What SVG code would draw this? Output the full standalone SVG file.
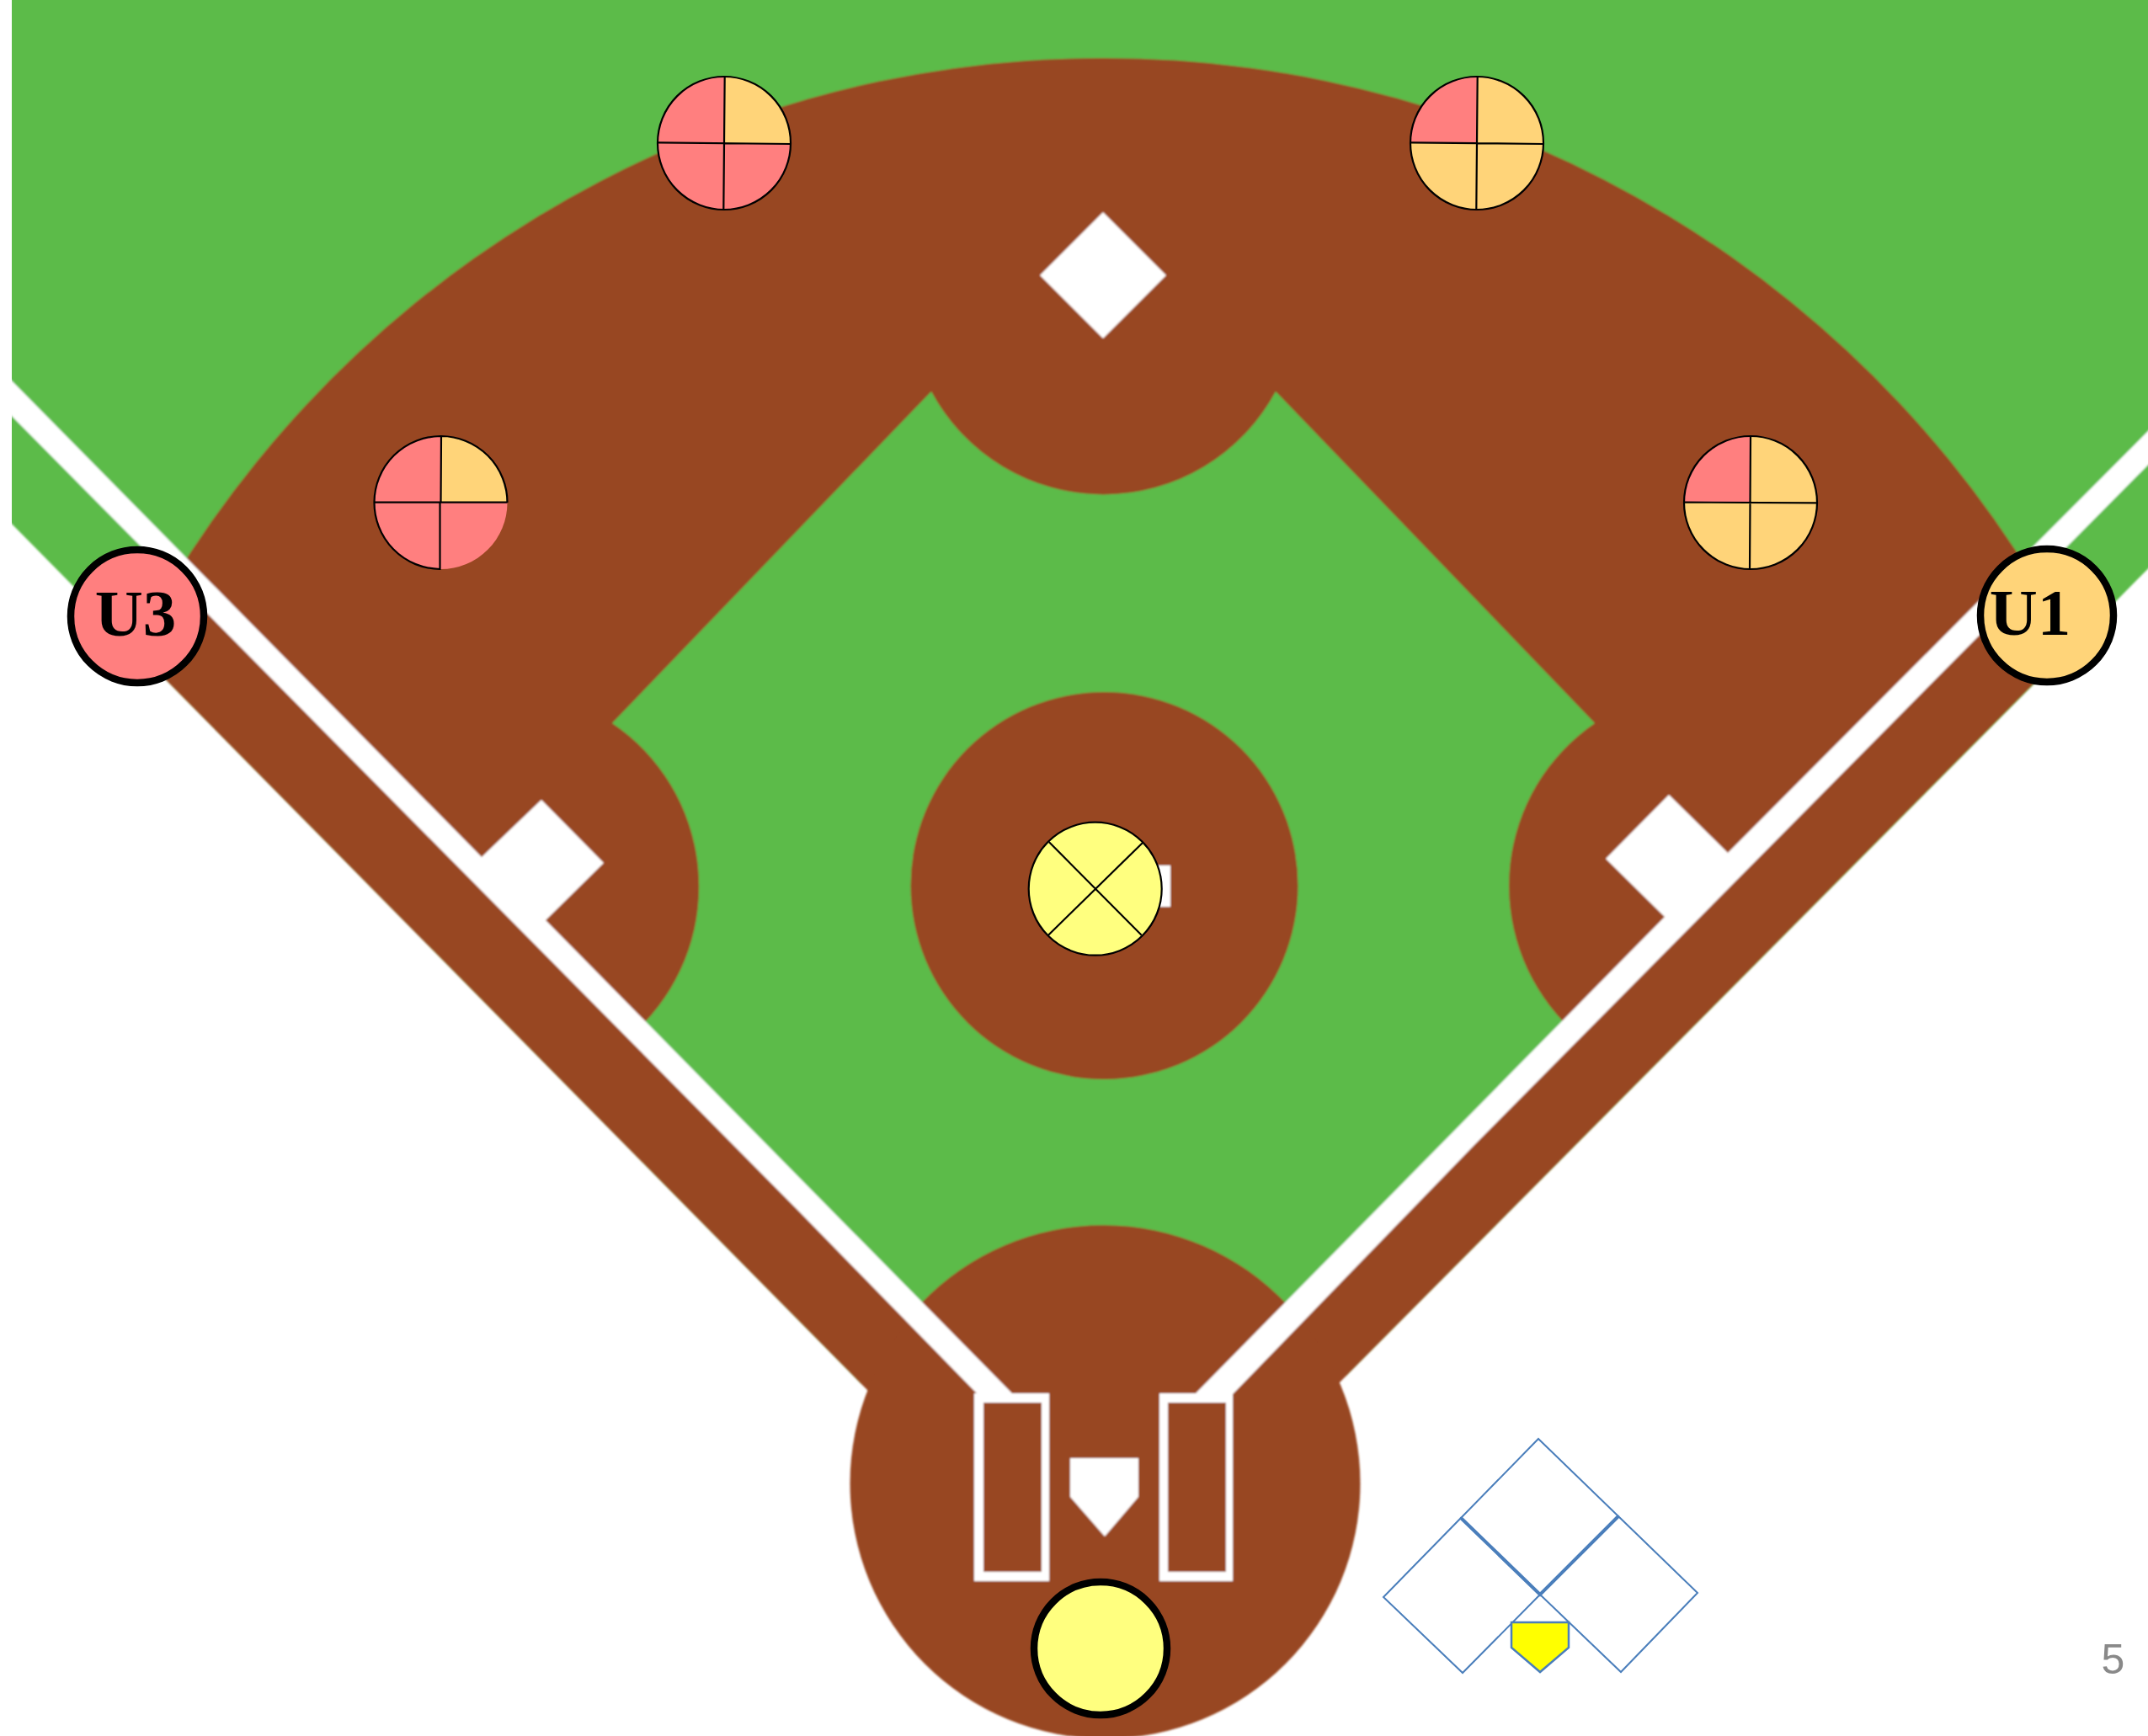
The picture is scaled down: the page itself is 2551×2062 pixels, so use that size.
<svg xmlns="http://www.w3.org/2000/svg" width="2551" height="2062" viewBox="0 0 2551 2062">
<defs>
<clipPath id="page"><rect x="14" y="0" width="2537" height="2062"/></clipPath>
<filter id="soft" filterUnits="userSpaceOnUse" x="-30" y="-30" width="2620" height="2130"><feGaussianBlur stdDeviation="0.9"/></filter>
<path id="cross" d="M860.700 91.500L859.300 249.500M781 169.300L939 171"/>
</defs>
<style>
.b{fill:#984621}.g{fill:#5CBB4A}.w{fill:#fff}
.l{stroke:#000;stroke-width:2.200;fill:none}
.p{fill:#FF7F7F}.o{fill:#FFD479}.y{fill:#FFFF7F}
.big{stroke:#000;stroke-width:8.500}
.t{font-family:"Liberation Serif",serif;font-weight:bold;font-size:79px;text-anchor:middle;fill:#000}
.d{fill:#fff;stroke:#4A7EBB;stroke-width:2}
.dk{fill:none;stroke:#4A7EBB;stroke-width:4}
</style>
<rect width="2551" height="2062" fill="#fff"/>
<g id="field" clip-path="url(#page)"><g filter="url(#soft)">
<path class="g" d="M-20 -20H2580V646L2460 768L1600 1633L1312 1850L1022 1643L-6 602Z"/>
<path class="b" d="M160 770A1295 1295 0 0 1 2460 767L1590 1643L1312 1900L1032 1653Z"/>
<circle class="b" cx="1312.500" cy="1762" r="303"/>
<path class="g" d="M1106 465A232 232 0 0 0 1515 465L1894 859A234 234 0 0 0 1857 1214L1528 1549A299 299 0 0 0 1094 1548L765 1215A234 234 0 0 0 727 859Z"/>
<circle class="b" cx="1311.500" cy="1052" r="230"/>
<path class="w" d="M-6 432L572 1018L643 950L717 1025L648 1093L1202 1655H1160L950 1440L-6 474Z"/>
<path class="w" d="M2580 483L2052 1013L1982 944L1907 1020L1977 1089L1419 1656H1464L1750 1361L2580 523Z"/>
<polygon class="w" points="1310,252 1385,327 1310,402 1235,327"/>
<rect class="w" x="1370" y="1028" width="20" height="49"/>
<path class="w" fill-rule="evenodd" d="M1157 1655H1246V1878H1157ZM1168 1666V1867H1237V1666Z"/>
<path class="w" fill-rule="evenodd" d="M1377 1655H1464V1878H1377ZM1387 1666V1867H1456V1666Z"/>
<polygon class="w" points="1271,1732 1352,1732 1352,1778 1312,1825 1271,1778"/>
</g></g>
<g id="connectors"></g>
<g id="q-left">
<circle class="p" cx="523.500" cy="597" r="79"/>
<path class="o" d="M523.500 597V518A79 79 0 0 1 602.500 597Z"/>
<path class="l" d="M602.500 597A79 79 0 1 0 522.500 676V597M524 518L523.500 597M444.500 596.600H602.500"/>
</g>
<g id="q-top-left">
<circle class="p" cx="860" cy="170" r="79"/>
<path class="o" d="M860 170L860.700 91A79 79 0 0 1 939 171Z"/>
<circle class="l" cx="860" cy="170" r="79"/>
<use href="#cross" class="l"/>
</g>
<g id="q-top-right">
<circle class="o" cx="1754" cy="170" r="79"/>
<path class="p" d="M1754 170L1754.700 91A79 79 0 0 0 1675 169.300Z"/>
<circle class="l" cx="1754" cy="170" r="79"/>
<use href="#cross" class="l" x="894"/>
</g>
<g id="q-right">
<circle class="o" cx="2079" cy="597" r="79"/>
<path class="p" d="M2079 597V518A79 79 0 0 0 2000 596.600Z"/>
<circle class="l" cx="2079" cy="597" r="79"/>
<path class="l" d="M2079 518L2078 676M2000 596.600L2158 597.300"/>
</g>
<g id="pitcher">
<circle class="y l" cx="1300.700" cy="1055.700" r="79"/>
<path class="l" d="M1245.700 1000L1355.700 1110.700M1357.300 1000.700L1245 1110.700"/>
</g>
<g id="u3"><circle class="p big" cx="163" cy="732" r="79"/><text class="t" x="161" y="755">U3</text></g>
<g id="u1"><circle class="o big" cx="2431" cy="731" r="79"/><text class="t" x="2411" y="754">U1</text></g>
<g id="catcher"><circle class="y big" cx="1307" cy="1958" r="79"/></g>
<g id="plate-key">
<polygon class="d" points="1827,1709 1922,1801 1829,1894 1735,1803"/>
<polygon class="d" points="1735,1803 1829,1894 1737,1987 1643,1897"/>
<polygon class="d" points="1922,1801 2016,1892 1925,1986 1829,1894"/>
<path class="dk" d="M1735 1803L1829 1894L1922 1801"/>
<polygon points="1795,1927 1863,1927 1863,1957 1829,1986 1795,1957" fill="#FF0" stroke="#4A7EBB" stroke-width="2.500"/>
</g>
<text x="2509.500" y="1988" font-family="Liberation Sans,sans-serif" font-size="50" fill="#898989" text-anchor="middle">5</text>
</svg>
